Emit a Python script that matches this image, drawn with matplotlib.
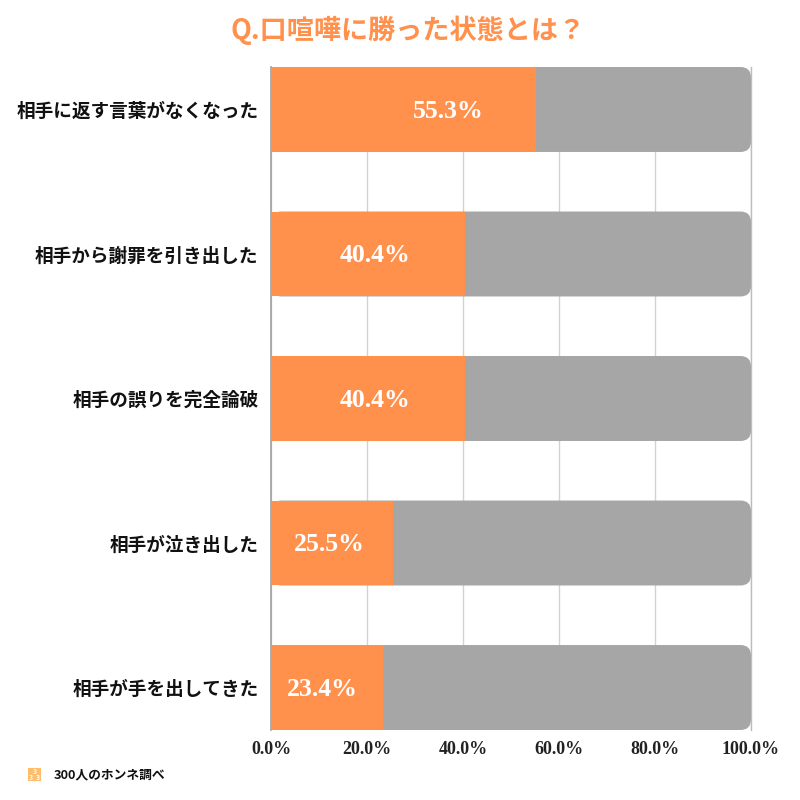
"""Stacked horizontal survey bars: what counts as winning an argument."""

import matplotlib
matplotlib.use("Agg")
import matplotlib.pyplot as plt
from matplotlib.patches import FancyBboxPatch, Rectangle

# ── Data ──────────────────────────────────────────────────────────────────────

CATEGORIES = [
    "相手に返す言葉がなくなった",
    "相手から謝罪を引き出した",
    "相手の誤りを完全論破",
    "相手が泣き出した",
    "相手が手を出してきた",
]
VALUES = [55.3, 40.4, 40.4, 25.5, 23.4]
TRACK_TOTAL = [100, 100, 100, 100, 100]
X_TICKS = [0, 20, 40, 60, 80, 100]
X_TICK_LABELS = ["0.0%", "20.0%", "40.0%", "60.0%", "80.0%", "100.0%"]
TITLE = "Q.口喧嘩に勝った状態とは？"
SOURCE = "300人のホンネ調べ"

# ── Config ────────────────────────────────────────────────────────────────────

ORANGE = "#FF914D"
GREY = "#A6A6A6"
GRID = "#D2D2D2"
ICON = "#FFBD6B"
BAR_HEIGHT = 0.588
LABEL_X = [36.9, 21.7, 21.7, 12.1, 10.7]  # where the value labels sit, in axis %
SERIF_JP = ["Liberation Serif", "Noto Sans CJK JP"]
GOTHIC_JP = ["Noto Sans CJK JP", "DejaVu Sans"]

W = H = 800


def main():
    fig = plt.figure(figsize=(8, 8), dpi=100)
    ax = fig.add_axes([271 / W, 1 - 730 / H, 480 / W, 663 / H])

    half = BAR_HEIGHT / 2
    ax.set_xlim(0, 100)
    ax.set_ylim(len(CATEGORIES) - 1 + half, -half)

    ax.set_axisbelow(True)
    ax.grid(axis="x", color=GRID, lw=1.0)
    ax.grid(axis="y", visible=False)

    # pixels per data unit, so the corners come out round
    aspect = (480 / 100) / (663 / (len(CATEGORIES) - 1 + BAR_HEIGHT))
    radius = 2.2
    inset = radius * aspect

    for i, total in enumerate(TRACK_TOTAL):
        track = FancyBboxPatch(
            (radius, i - half + inset), total - 2 * radius, BAR_HEIGHT - 2 * inset,
            boxstyle=f"round,pad={radius},rounding_size={radius}",
            mutation_aspect=aspect, fc=GREY, ec="none", zorder=4,
        )
        ax.add_patch(track)

    ax.barh(range(len(VALUES)), VALUES, height=BAR_HEIGHT, color=ORANGE,
            edgecolor="none", zorder=5)

    for i, val in enumerate(VALUES):
        ax.text(LABEL_X[i], i + 0.012, f"{val:.1f}%",
                ha="center", va="center", color="white", fontsize=18.5,
                fontweight="bold", family=SERIF_JP, zorder=6)

    ax.set_xticks(X_TICKS)
    ax.set_xticklabels(X_TICK_LABELS, family=SERIF_JP, fontweight="bold", fontsize=13)
    ax.set_yticks(range(len(CATEGORIES)))
    ax.set_yticklabels(CATEGORIES, family=GOTHIC_JP, fontweight="bold", fontsize=13.4)
    ax.tick_params(axis="x", length=0, pad=8, colors="#222222")
    ax.tick_params(axis="y", length=0, pad=9, colors="#111111")

    for side in ("top", "bottom"):
        ax.spines[side].set_visible(False)
    ax.spines["left"].set_color("#A0A0A0")
    ax.spines["left"].set_linewidth(1.2)
    ax.spines["left"].set_zorder(1)
    ax.spines["right"].set_color("#BDBDBD")
    ax.spines["right"].set_linewidth(1.0)
    ax.spines["right"].set_zorder(1)

    fig.text(408 / W, 1 - 30 / H, TITLE, ha="center", va="center",
             color=ORANGE, fontsize=19.5, fontweight="bold", family=GOTHIC_JP)

    # source mark, bottom left
    fig.add_artist(Rectangle((28 / W, 1 - 781 / H), 13 / W, 13 / H,
                             transform=fig.transFigure, fc=ICON, ec="none"))
    for px, py in [(34.5, 771), (31, 778), (38, 778)]:
        fig.text(px / W, 1 - py / H, "3", ha="center", va="center",
                 color="white", fontsize=5, fontweight="bold", family=GOTHIC_JP)
    fig.text(54 / W, 1 - 775 / H, SOURCE, ha="left", va="center",
             color="#111111", fontsize=9.2, fontweight="bold", family=GOTHIC_JP)

    fig.savefig("out.png", dpi=100)


if __name__ == "__main__":
    main()
